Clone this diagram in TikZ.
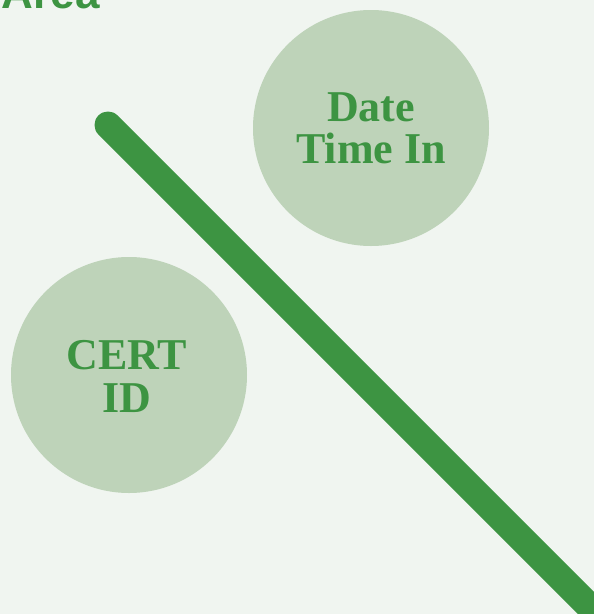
\documentclass[tikz,border=0pt]{standalone}
\usepackage{fontspec}
\newfontfamily\headfont{Liberation Sans}
\newfontfamily\bubfont{Liberation Serif}
\definecolor{bgc}{RGB}{240,245,240}
\definecolor{circc}{RGB}{190,211,185}
\definecolor{grn}{RGB}{61,148,66}
\begin{document}
\begin{tikzpicture}[x=1pt,y=1pt,
  bubble/.style={circle,fill=circc,minimum size=236pt,inner sep=0pt},
  bubtext/.style={text=grn,font=\bubfont\fontsize{44}{42.5}\selectfont\bfseries,align=center,inner sep=0pt}]
\useasboundingbox (0,0) rectangle (594,-614);
\clip (0,0) rectangle (594,-614);
\fill[bgc] (0,0) rectangle (594,-614);
\node[anchor=base east,text=grn,font=\headfont\fontsize{44}{44}\selectfont\bfseries,inner sep=0pt] (title) at (100,-8) {Area};
\node[bubble] (date) at (371,-128) {};
\node[bubtext] (datetxt) at (371,-128.5) {Date\\Time In};
\node[bubble] (cert) at (129,-375) {};
\node[bubtext] (certtxt) at (127,-376.5) {CERT\\ID};
\coordinate (ls) at (108,-125);
\coordinate (le) at (640,-657);
\draw[grn,line width=27pt,line cap=round] (ls) -- (le);
\end{tikzpicture}
\end{document}
